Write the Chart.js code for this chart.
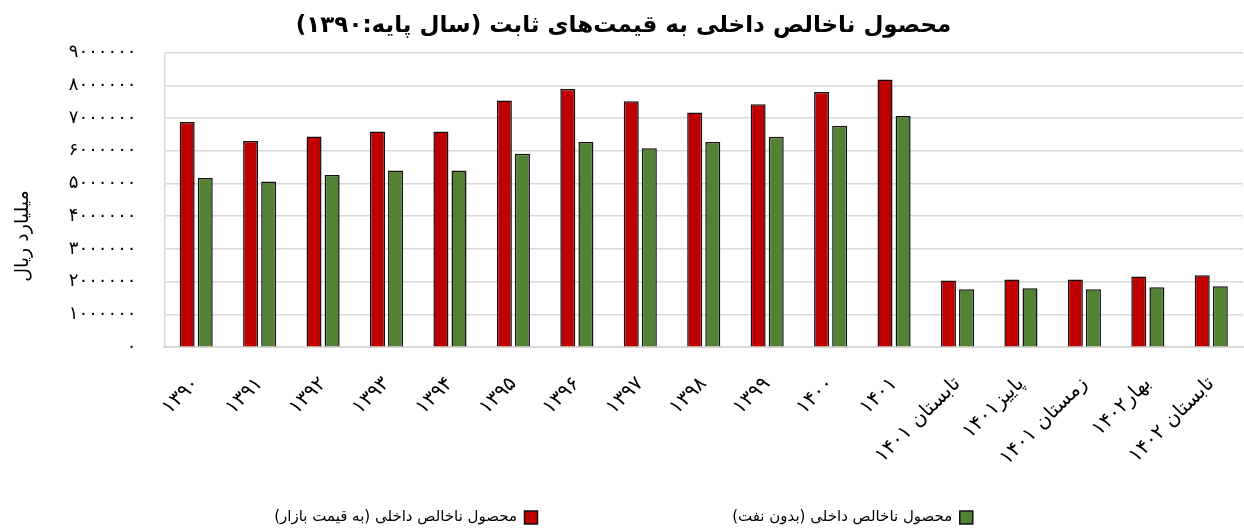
<!DOCTYPE html>
<html>
<head>
<meta charset="utf-8">
<script src="https://cdn.jsdelivr.net/npm/chart.js@4"></script>
<style>
  body { margin: 0; background: #fff; }
</style>
</head>
<body>
<canvas id="gdpChart" width="1244" height="530"></canvas>
<script>
// categories (years + quarters)
const categories = ['۱۳۹۰', '۱۳۹۱', '۱۳۹۲', '۱۳۹۳', '۱۳۹۴', '۱۳۹۵', '۱۳۹۶', '۱۳۹۷', '۱۳۹۸', '۱۳۹۹', '۱۴۰۰', '۱۴۰۱',
  'تابستان ۱۴۰۱', 'پاییز۱۴۰۱', 'زمستان ۱۴۰۱', 'بهار۱۴۰۲', 'تابستان ۱۴۰۲'];

// billion rials, constant prices
const gdpMarketPrice = [6880000, 6300000, 6440000, 6590000, 6590000, 7540000, 7890000, 7510000, 7170000, 7420000, 7800000, 8180000,
  2040000, 2070000, 2070000, 2160000, 2200000];
const gdpNonOil = [5170000, 5060000, 5260000, 5400000, 5400000, 5910000, 6270000, 6080000, 6270000, 6430000, 6760000, 7060000,
  1770000, 1800000, 1770000, 1830000, 1860000];

const seriesNames = ['محصول ناخالص داخلی (به قیمت بازار)', 'محصول ناخالص داخلی (بدون نفت)'];
const titleText = 'محصول ناخالص داخلی به قیمت‌های ثابت (سال پایه:۱۳۹۰)';
const yAxisTitle = 'میلیارد ریال';
const yMax = 9000000;
const yStep = 1000000;

const RLM = '\u200F';
const faDigits = s => String(s).replace(/\d/g, d => '۰۱۲۳۴۵۶۷۸۹'[d]);

document.addEventListener('DOMContentLoaded', () => {
  const ctx = document.getElementById('gdpChart').getContext('2d');
  Chart.defaults.font.family = '"DejaVu Sans", sans-serif';
  Chart.defaults.color = '#000';

  new Chart(ctx, {
    type: 'bar',
    data: {
      labels: categories,
      datasets: [{
        label: seriesNames[0],
        data: gdpMarketPrice,
        backgroundColor: '#C00000',
        borderColor: '#111',
        borderWidth: 1.5
      }, {
        // trailing spaces open the gap between the two legend entries
        label: seriesNames[1] + ' '.repeat(40),
        data: gdpNonOil,
        backgroundColor: '#548235',
        borderColor: '#111',
        borderWidth: 1.5
      }]
    },
    options: {
      responsive: false,
      animation: false,
      categoryPercentage: 0.57,
      barPercentage: 0.83,
      layout: { padding: { top: 4, right: 1, left: 4, bottom: -5 } },
      plugins: {
        title: {
          display: true,
          text: titleText + RLM,
          font: { size: 23, weight: 'bold' },
          padding: { top: 8, bottom: 13 }
        },
        legend: {
          position: 'bottom',
          rtl: true,
          reverse: true,
          textDirection: 'rtl',
          labels: {
            font: { size: 15 },
            boxWidth: 13,
            boxHeight: 13,
            padding: 4
          }
        },
        tooltip: { enabled: false }
      },
      scales: {
        x: {
          grid: { display: false, drawTicks: false },
          border: { color: '#d9d9d9', width: 2 },
          ticks: {
            autoSkip: false,
            minRotation: 45,
            maxRotation: 45,
            padding: 25,
            font: { size: 20 }
          },
          afterFit: scale => {
            // let the plot run to the right edge, leave room above the legend
            scale.paddingRight = 0;
            scale.height += 11;
          }
        },
        y: {
          min: 0,
          max: yMax,
          grid: { color: '#d9d9d9', lineWidth: 1.5, drawTicks: false },
          border: { color: '#d9d9d9', width: 1.5 },
          ticks: {
            stepSize: yStep,
            padding: 28,
            font: { size: 18 },
            callback: v => faDigits(v)
          },
          title: {
            display: true,
            text: yAxisTitle + ' '.repeat(12),
            font: { size: 19 },
            padding: { top: 8, bottom: 6 }
          }
        }
      }
    }
  });
});
</script>
</body>
</html>
